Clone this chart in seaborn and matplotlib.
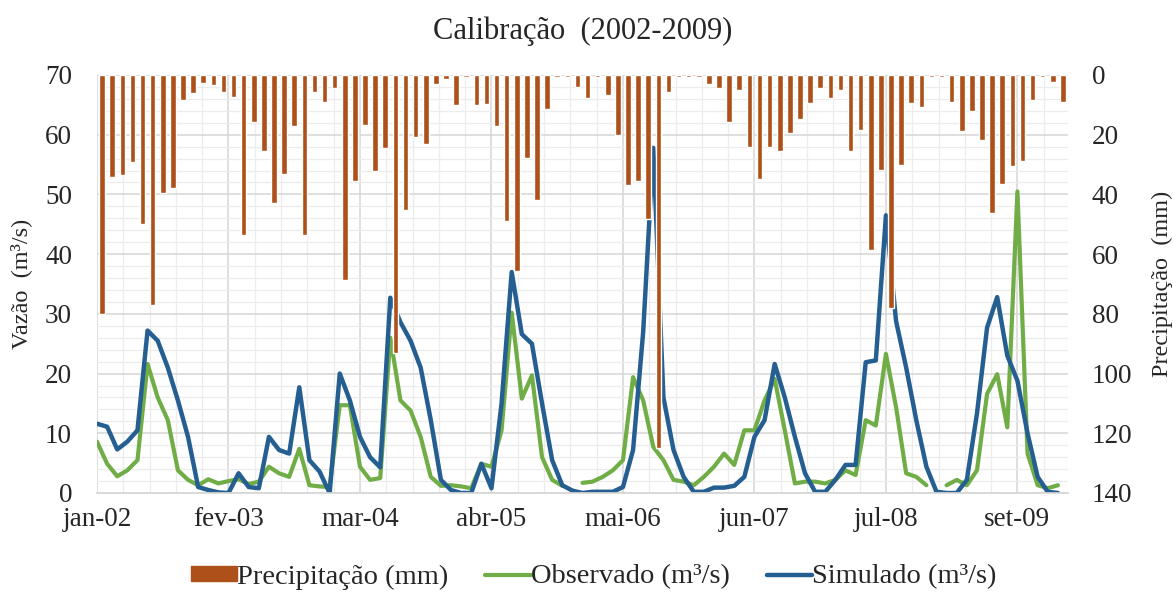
import numpy as np
import pandas as pd
import matplotlib
matplotlib.use("Agg")
import matplotlib.pyplot as plt
import seaborn as sns
from matplotlib.ticker import FixedLocator, FixedFormatter, MultipleLocator, NullFormatter
from matplotlib.patches import Patch
from matplotlib.lines import Line2D

# monthly series jan-2002 .. dez-2009
precipitacao = [80, 34, 33.5, 29, 50, 77, 39.5, 38, 8.3, 6, 2.8, 3.3,
                5.6, 7.4, 53.5, 15.6, 25.6, 43, 33, 17.2, 53.5, 5.6, 9, 4.4,
                68.5, 35.6, 16.7, 32, 24.5, 93, 45.3, 20.8, 23, 3.1, 1.3, 10.2,
                0.6, 10.2, 9.7, 17.2, 49, 65.6, 27.8, 42, 11.4, 0.8, 0.8, 3.9,
                7.8, 0.8, 6.7, 20.2, 36.7, 35.6, 48.3, 125, 5.6, 0.8, 0.8, 0.8,
                3.1, 4.4, 15.6, 5, 24, 34.8, 24, 25.6, 19.4, 14.8, 9.4, 4.2,
                7.8, 5, 25.3, 18.3, 58.7, 31.7, 78, 30, 9.4, 10.6, 0.6, 0.6,
                8.9, 18.9, 12.2, 21.7, 46.3, 36.4, 30.6, 28.9, 8.3, 0.6, 2.4, 8.9]

observado = [8.6, 4.9, 2.8, 3.8, 5.5, 21.6, 16, 12.2, 3.8, 2.2, 1.3, 2.3,
             1.6, 2, 2.3, 1.5, 1.9, 4.4, 3.3, 2.7, 7.4, 1.3, 1.1, 1.0,
             14.7, 14.7, 4.4, 2.2, 2.5, 26, 15.5, 13.8, 9.4, 2.7, 1.2, 1.3,
             1.1, 0.8, 4.9, 4.4, 10.5, 30.2, 15.8, 19.7, 6, 2.2, 1.2, np.nan,
             1.7, 1.9, 2.7, 3.8, 5.5, 19.4, 15.5, 7.7, 5.5, 2.2, 1.9, 1.3,
             2.7, 4.4, 6.6, 4.7, 10.5, 10.5, 15.5, 19.1, 10.5, 1.6, 1.9, 1.9,
             1.6, 2.2, 3.8, 3, 12.2, 11.3, 23.3, 14.4, 3.3, 2.7, 1.3, np.nan,
             1.3, 2.2, 1.3, 3.8, 16.6, 19.9, 11, 50.5, 6.6, 1.3, 0.8, 1.3]

simulado = [11.6, 11.1, 7.3, 8.6, 10.5, 27.2, 25.5, 21, 15.5, 9.4, 1, 0.5,
            0.1, 0, 3.3, 1, 0.8, 9.4, 7.2, 6.6, 17.7, 5.5, 3.6, 0,
            20, 15.5, 9.4, 6, 4.3, 32.7, 28.6, 25.5, 21, 12.2, 2.2, 0.5,
            0, 0, 4.9, 0.8, 15, 37, 26.6, 25, 15, 5.5, 1.3, 0.4,
            0, 0.2, 0.2, 0.2, 1, 7.2, 27, 57.8, 16, 7.2, 2.7, 0.2,
            0.2, 0.9, 0.9, 1.2, 2.7, 9.4, 12.2, 21.6, 16, 9.4, 3.3, 0.2,
            0.2, 2.2, 4.7, 4.7, 21.9, 22.2, 46.5, 28.8, 21, 12.2, 4.4, 0.2,
            0, 0, 2.2, 13.3, 27.7, 32.8, 23, 18.8, 10, 2.7, 0.2, 0]

rotulos = ["jan-02", "fev-03", "mar-04", "abr-05", "mai-06", "jun-07", "jul-08", "set-09"]

cor_chuva = "#AE5019"
cor_obs = "#70AD47"
cor_sim = "#255E91"

sns.set_theme(style="white")
plt.rcParams["font.family"] = ["Liberation Serif", "DejaVu Serif"]

n = len(precipitacao)
mes = np.arange(n)
df = pd.DataFrame({"mes": mes, "precipitacao": precipitacao,
                   "observado": observado, "simulado": simulado})
# lines sit on the month boundaries, bars between them
df["pos"] = df["mes"] - 0.5
df["trecho"] = df["observado"].isna().cumsum()

fig = plt.figure(figsize=(11.73, 5.92), dpi=100)
ax = fig.add_axes([97 / 1173, 1 - 493 / 592, (1068 - 97) / 1173, (493 - 75) / 592])
ax2 = ax.twinx()

sns.barplot(data=df, x="mes", y="precipitacao", ax=ax2, color=cor_chuva,
            saturation=1, width=0.55, errorbar=None)

obs = df.dropna(subset=["observado"])
sns.lineplot(data=obs, x="pos", y="observado", units="trecho", estimator=None,
             ax=ax, color=cor_obs, lw=3.0, sort=False)
sns.lineplot(data=df, x="pos", y="simulado", ax=ax, color=cor_sim, lw=3.2, sort=False)

ax.set_xlim(-0.5, n - 0.5)
ax.set_ylim(0, 70)
ax2.set_ylim(140, 0)

ax.xaxis.set_major_locator(FixedLocator(-0.5 + 13 * np.arange(len(rotulos))))
ax.xaxis.set_major_formatter(FixedFormatter(rotulos))
ax.xaxis.set_minor_locator(MultipleLocator(2.6, offset=-0.5))
ax.xaxis.set_minor_formatter(NullFormatter())
ax.yaxis.set_major_locator(MultipleLocator(10))
ax.yaxis.set_minor_locator(MultipleLocator(2))
ax2.yaxis.set_major_locator(MultipleLocator(20))

ax.set_axisbelow(True)
ax.grid(which="major", color="#d6d6d6", lw=1.1)
ax.grid(which="minor", color="#ececec", lw=0.9)

for a in (ax, ax2):
    for s in a.spines.values():
        s.set_visible(False)
ax.spines["bottom"].set_visible(True)
ax.spines["bottom"].set_color("#d6d6d6")

ax.tick_params(axis="x", which="both", length=0, labelsize=19.5, pad=10)
ax.tick_params(axis="y", which="both", length=0, labelsize=19.5, pad=18)
ax2.tick_params(axis="y", length=0, labelsize=19.5, pad=17)

ax.set_xlabel("")
ax.set_ylabel("Vazão  (m³/s)", fontsize=17.5, labelpad=9)
ax2.set_xlabel("")
ax2.set_ylabel("Precipitação  (mm)", fontsize=17.5, labelpad=14)

fig.text(0.5 * (97 + 1068) / 1173, 1 - 31 / 592, "Calibração  (2002-2009)",
         ha="center", va="center", fontsize=22)

handles = [Patch(color=cor_chuva),
           Line2D([], [], color=cor_obs, lw=3.0),
           Line2D([], [], color=cor_sim, lw=3.2)]
labels = ["Precipitação (mm)", "Observado (m³/s)", "Simulado (m³/s)"]
fig.legend(handles, labels, loc="center", bbox_to_anchor=(594 / 1173, 15 / 592),
           ncol=3, frameon=False, fontsize=20.5, handlelength=1.6, handleheight=0.45,
           handletextpad=0.0, columnspacing=1.3)

fig.savefig("out.png", dpi=100)
